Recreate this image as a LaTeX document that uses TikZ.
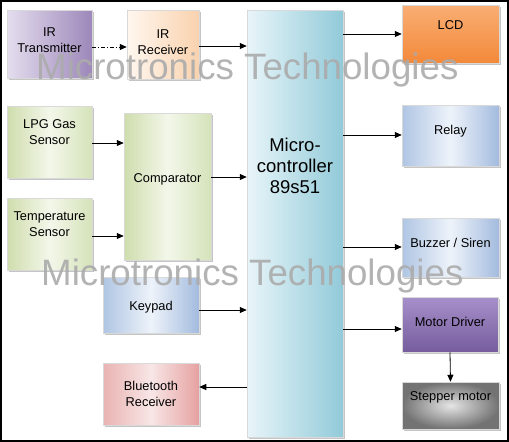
\documentclass[tikz,border=0pt]{standalone}
\usepackage{fontspec}
\setmainfont{Liberation Sans}
\usetikzlibrary{shadows,arrows.meta}
\definecolor{lavL}{HTML}{E4DDEE}
\definecolor{lavR}{HTML}{9D88BA}
\definecolor{peachL}{HTML}{FFF7EF}
\definecolor{peachR}{HTML}{F9D2AE}
\definecolor{cyanL}{HTML}{E8F5F9}
\definecolor{cyanR}{HTML}{92CAD9}
\definecolor{orT}{HTML}{F9AE74}
\definecolor{orB}{HTML}{F3893A}
\definecolor{blueL}{HTML}{AFC5E3}
\definecolor{blueM}{HTML}{EEF3FA}
\definecolor{blueR}{HTML}{A3BBDE}
\definecolor{purT}{HTML}{A690CA}
\definecolor{purB}{HTML}{765C9D}
\definecolor{greenL}{HTML}{CFDDAD}
\definecolor{greenM}{HTML}{F3F7EA}
\definecolor{greenR}{HTML}{D5E3BA}
\definecolor{pinkL}{HTML}{E9B3B2}
\definecolor{pinkM}{HTML}{F8E6E6}
\definecolor{pinkR}{HTML}{E6A1A1}
\begin{document}
\begin{tikzpicture}[x=1pt,y=-1pt,
  box/.style={rectangle, draw=black!15, line width=0.5pt, inner sep=0pt,
    drop shadow={shadow xshift=2pt, shadow yshift=-2pt, opacity=0.45}},
  bluebox/.style={box, left color=blueL, right color=blueR, middle color=blueM},
  greenbox/.style={box, left color=greenL, right color=greenR, middle color=greenM},
  lbl/.style={inner sep=0pt, align=center, font=\fontsize{12.8}{16}\selectfont},
  arr/.style={line width=0.8pt, -{Triangle[length=7pt,width=6pt]}},
  wm/.style={inner sep=0pt, anchor=base west, text=black!33, text opacity=0.9,
    font=\fontsize{36.7}{40}\selectfont}]
\useasboundingbox (0,0) rectangle (509,442);
\fill[white] (0,0) rectangle (509,442);
% boxes
\node[box, left color=lavL, right color=lavR, minimum width=85pt, minimum height=68pt] (irt) at (49.5,44) {};
\node[box, left color=peachL, right color=peachR, minimum width=72pt, minimum height=69pt] (irr) at (163,44.5) {};
\node[box, left color=cyanL, right color=cyanR, minimum width=96pt, minimum height=427pt] (mc) at (295,223.5) {};
\node[box, top color=orT, bottom color=orB, minimum width=97pt, minimum height=58pt] (lcd) at (450.5,34) {};
\node[bluebox, minimum width=97pt, minimum height=61pt] (relay) at (450.5,135.5) {};
\node[bluebox, minimum width=97pt, minimum height=59pt] (buzz) at (450.5,247.5) {};
\node[box, top color=purT, bottom color=purB, minimum width=96pt, minimum height=55pt] (md) at (450,324.5) {};
\node[box, inner color=black!10, outer color=black!55, minimum width=97pt, minimum height=47pt] (stp) at (450.5,405.5) {};
\node[greenbox, minimum width=85pt, minimum height=72pt] (lpg) at (49.5,142) {};
\node[greenbox, minimum width=85pt, minimum height=72pt] (temp) at (49.5,234) {};
\node[greenbox, minimum width=87pt, minimum height=147pt] (comp) at (167.5,186.5) {};
\node[bluebox, minimum width=96pt, minimum height=56pt] (key) at (151,305) {};
\node[box, left color=pinkL, right color=pinkR, middle color=pinkM, minimum width=96pt, minimum height=62pt] (bt) at (151,394) {};
% texts
\node[lbl] (irt-t) at (49.5,40) {IR\\Transmitter};
\node[lbl] (irr-t) at (163,42) {IR\\Receiver};
\node[lbl, font=\fontsize{18.5}{21}\selectfont] (mc-t) at (295,166) {Micro-\\controller\\89s51};
\node[lbl] (lcd-t) at (450.5,25) {LCD};
\node[lbl] (relay-t) at (450.5,131) {Relay};
\node[lbl] (buzz-t) at (450.5,243) {Buzzer / Siren};
\node[lbl] (md-t) at (450,322) {Motor Driver};
\node[lbl] (stp-t) at (450.5,397) {Stepper motor};
\node[lbl] (lpg-t) at (49.5,132) {LPG Gas\\Sensor};
\node[lbl] (temp-t) at (49.5,224) {Temperature\\Sensor};
\node[lbl] (comp-t) at (167.5,179) {Comparator};
\node[lbl] (key-t) at (151,307) {Keypad};
\node[lbl] (bt-t) at (151,394) {Bluetooth\\Receiver};
% arrow levels
\coordinate (y47) at (0,47);
\coordinate (y46) at (0,46);
\coordinate (y34) at (0,34);
\coordinate (y135) at (0,135);
\coordinate (y247) at (0,247);
\coordinate (y329) at (0,329);
\coordinate (y143) at (0,143);
\coordinate (y236) at (0,236);
\coordinate (y177) at (0,177);
\coordinate (y310) at (0,310);
\coordinate (y387) at (0,387);
% connectors
\draw[arr, dash pattern=on 4pt off 2pt on 1pt off 2pt] (irt.east |- y47) -- (irr.west |- y47);
\draw[arr] (irr.east |- y46) -- (mc.west |- y46);
\draw[arr] (mc.east |- y34) -- (lcd.west |- y34);
\draw[arr] (mc.east |- y135) -- (relay.west |- y135);
\draw[arr] (mc.east |- y247) -- (buzz.west |- y247);
\draw[arr] (mc.east |- y329) -- (md.west |- y329);
\draw[arr] (md.south) -- (stp.north);
\draw[arr] (lpg.east |- y143) -- (comp.west |- y143);
\draw[arr] (temp.east |- y236) -- (comp.west |- y236);
\draw[arr] (comp.east |- y177) -- (mc.west |- y177);
\draw[arr] (key.east |- y310) -- (mc.west |- y310);
\draw[arr] (mc.west |- y387) -- (bt.east |- y387);
% watermarks
\node[wm] (wm1) at (36,79) {Microtronics Technologies};
\node[wm] (wm2) at (41,285) {Microtronics Technologies};
% frame
\draw[line width=2pt] (1,1) rectangle (508,441);
\end{tikzpicture}
\end{document}
